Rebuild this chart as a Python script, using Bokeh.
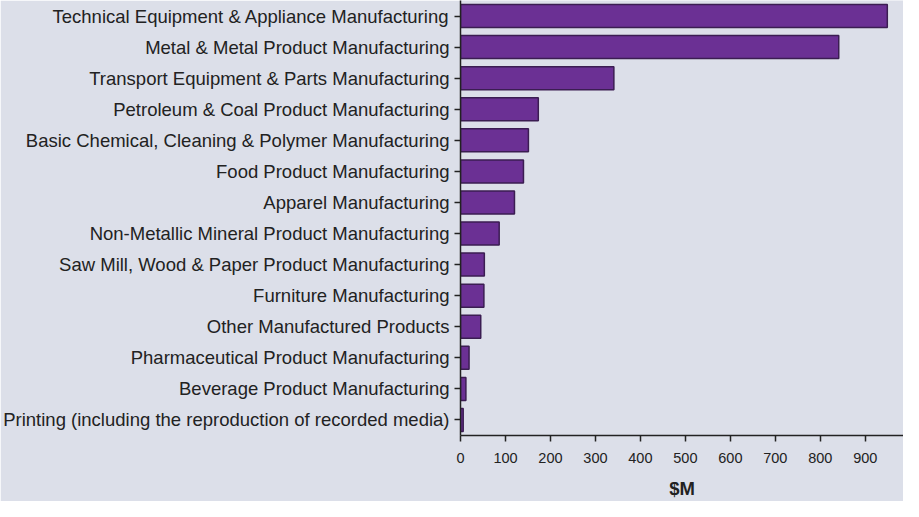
from bokeh.plotting import figure
from bokeh.models import Range1d, FactorRange, FixedTicker, ColumnDataSource
from bokeh.embed import file_html
from bokeh.resources import INLINE

categories = [
    "Technical Equipment & Appliance Manufacturing",
    "Metal & Metal Product Manufacturing",
    "Transport Equipment & Parts Manufacturing",
    "Petroleum & Coal Product Manufacturing",
    "Basic Chemical, Cleaning & Polymer Manufacturing",
    "Food Product Manufacturing",
    "Apparel Manufacturing",
    "Non-Metallic Mineral Product Manufacturing",
    "Saw Mill, Wood & Paper Product Manufacturing",
    "Furniture Manufacturing",
    "Other Manufactured Products",
    "Pharmaceutical Product Manufacturing",
    "Beverage Product Manufacturing",
    "Printing (including the reproduction of recorded media)",
]
values = [949, 841, 341, 173, 151, 140, 120, 86, 53, 52, 45, 19, 12, 6]
x_ticks = [0, 100, 200, 300, 400, 500, 600, 700, 800, 900]
x_label = "$M"

BG = "#dcdfe9"
TXT = "#222222"

src = ColumnDataSource(data=dict(cat=categories, val=values))

p = figure(
    width=903, height=501,
    y_range=FactorRange(factors=list(reversed(categories)), range_padding=0),
    x_range=Range1d(0, 985),
    output_backend="svg", toolbar_location=None,
    background_fill_color=BG, border_fill_color=BG,
    min_border_left=0, min_border_right=0, min_border_top=0, min_border_bottom=0,
)
p.outline_line_color = None

p.hbar(y="cat", right="val", left=0, height=0.74, source=src,
       fill_color="#6b3094", line_color="#3b1d52", line_width=1.5)

p.xgrid.grid_line_color = None
p.ygrid.grid_line_color = None

for ax in (p.xaxis, p.yaxis):
    ax.axis_line_color = TXT
    ax.axis_line_width = 1.5
    ax.major_tick_line_color = TXT
    ax.major_tick_line_width = 1.5
    ax.major_tick_out = 6
    ax.major_tick_in = 0
    ax.minor_tick_line_color = None
    ax.major_label_text_color = TXT
    ax.major_label_text_font = "Liberation Sans"

p.yaxis.major_label_text_font_size = "18.5px"
p.yaxis.major_label_standoff = 5

p.xaxis.ticker = FixedTicker(ticks=x_ticks)
p.xaxis.major_label_text_font_size = "14.5px"
p.xaxis.major_label_standoff = 11
p.xaxis.axis_label = x_label
p.xaxis.axis_label_text_font = "Liberation Sans"
p.xaxis.axis_label_text_font_size = "18.5px"
p.xaxis.axis_label_text_font_style = "bold"
p.xaxis.axis_label_text_color = TXT
p.xaxis.axis_label_standoff = 12

open("out.html", "w").write(file_html(p, INLINE))
